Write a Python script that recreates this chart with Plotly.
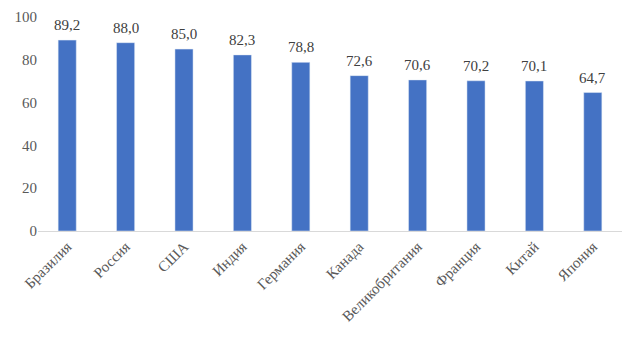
import plotly.graph_objects as go

countries = ["Бразилия", "Россия", "США", "Индия", "Германия", "Канада",
             "Великобритания", "Франция", "Китай", "Япония"]
values = [89.2, 88.0, 85.0, 82.3, 78.8, 72.6, 70.6, 70.2, 70.1, 64.7]
labels = [f"{v:.1f}".replace(".", ",") for v in values]
y_ticks = [0, 20, 40, 60, 80, 100]

fig = go.Figure(go.Bar(
    x=countries, y=values,
    marker=dict(color="#4472C4"), cliponaxis=False,
))
for c, v, t in zip(countries, values, labels):
    fig.add_annotation(x=c, y=v, text=t, showarrow=False, yanchor="bottom",
                       yshift=5, font=dict(family="Liberation Serif", size=15,
                                           color="#404040"))
fig.update_layout(
    width=636, height=342, margin=dict(l=30, r=22, t=9, b=119),
    plot_bgcolor="white", paper_bgcolor="white", bargap=0.69,
    font=dict(family="Liberation Serif", color="#595959", size=15),
    showlegend=False,
)
fig.update_xaxes(tickangle=-45, showline=True, linecolor="#D9D9D9", linewidth=1,
                 ticks="", automargin=False, tickfont=dict(size=15, color="#595959"))
fig.update_yaxes(range=[0, 100], tickvals=y_ticks, showgrid=False, zeroline=False,
                 showline=False, ticks="", automargin=False, ticklabeloverflow="allow",
                 tickfont=dict(size=15, color="#595959"))
fig.write_html("out.html")
